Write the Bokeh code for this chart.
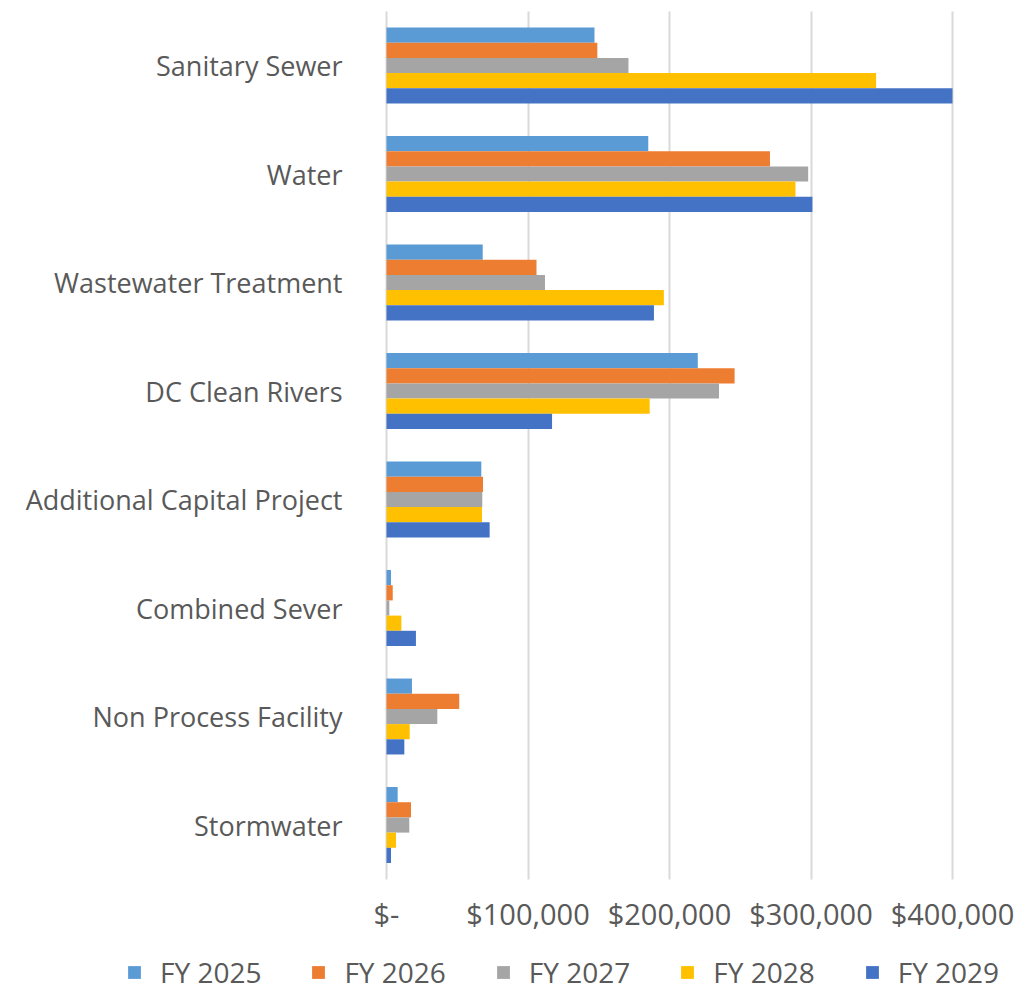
from bokeh.plotting import figure
from bokeh.models import ColumnDataSource, Range1d, FixedTicker, Legend, LegendItem
from bokeh.transform import dodge
from bokeh.embed import file_html
from bokeh.resources import INLINE

categories = ["Sanitary Sewer", "Water", "Wastewater Treatment", "DC Clean Rivers",
              "Additional Capital Project", "Combined Sever", "Non Process Facility", "Stormwater"]
series_names = ["FY 2025", "FY 2026", "FY 2027", "FY 2028", "FY 2029"]
fy2025 = [147000, 185000, 68000, 220000, 67000, 3200, 18000, 7900]
fy2026 = [149000, 271000, 106000, 246000, 68200, 4400, 51400, 17300]
fy2027 = [171000, 298000, 112000, 235000, 67700, 2000, 35900, 16100]
fy2028 = [346000, 289000, 196000, 186000, 67500, 10500, 16400, 6700]
fy2029 = [400000, 301000, 189000, 117000, 72900, 20800, 12600, 3200]
colors = ["#5B9BD5", "#ED7D31", "#A5A5A5", "#FFC000", "#4472C4"]
tick_values = [0, 100000, 200000, 300000, 400000]
tick_labels = ["$-", "$100,000", "$200,000", "$300,000", "$400,000"]

n = len(categories)
positions = list(range(n - 1, -1, -1))  # first category at the top
values = [fy2025, fy2026, fy2027, fy2028, fy2029]
keys = ["s0", "s1", "s2", "s3", "s4"]
data = {"cat": categories, "pos": positions}
for k, v in zip(keys, values):
    data[k] = v
source = ColumnDataSource(data)

FONT = "Open Sans"
TXT = "#595959"

# frame covers the whole canvas; axes are placed with fixed_location
W, H = 1017, 992
x0_px, px_per_unit = 386, 141.5 / 100000
y_top_cat_px, band_px = 65, 108.5
x_start = -x0_px / px_per_unit
x_end = (W - x0_px) / px_per_unit
y_end = (n - 1) + y_top_cat_px / band_px
y_start = (n - 1) - (H - y_top_cat_px) / band_px

p = figure(width=W, height=H, output_backend="svg", toolbar_location=None,
           x_range=Range1d(x_start, x_end), y_range=Range1d(y_start, y_end),
           min_border_left=0, min_border_right=0, min_border_top=0, min_border_bottom=0)
p.outline_line_color = None

offsets = [0.28, 0.14, 0.0, -0.14, -0.28]
renderers = []
for k, off, c in zip(keys, offsets, colors):
    r = p.hbar(y=dodge("pos", off), left=0, right=k, height=0.14,
               source=source, fill_color=c, line_color=None)
    renderers.append(r)

xa = p.xaxis[0]
xa.fixed_location = -0.5
xa.ticker = FixedTicker(ticks=tick_values)
xa.major_label_overrides = {v: l for v, l in zip(tick_values, tick_labels)}
xa.axis_line_color = None
xa.major_tick_line_color = None
xa.minor_tick_line_color = None
xa.major_label_text_font = FONT
xa.major_label_text_font_size = "29px"
xa.major_label_text_color = TXT
xa.major_label_standoff = 9

ya = p.yaxis[0]
ya.fixed_location = 0
ya.ticker = FixedTicker(ticks=positions)
ya.major_label_overrides = {pos: c for pos, c in zip(positions, categories)}
ya.axis_line_color = None
ya.major_tick_line_color = None
ya.minor_tick_line_color = None
ya.major_label_text_font = FONT
ya.major_label_text_font_size = "27px"
ya.major_label_text_color = TXT
ya.major_label_standoff = 38

p.ygrid.grid_line_color = None
p.xgrid.ticker = FixedTicker(ticks=tick_values)
p.xgrid.grid_line_color = "#D9D9D9"
p.xgrid.grid_line_width = 2
p.xgrid.cross_bounds = (-0.5, n - 0.5)

items = [LegendItem(label=s, renderers=[r]) for s, r in zip(series_names, renderers)]
legend = Legend(items=items, orientation="horizontal", location=(126, 1),
                label_text_font=FONT, label_text_font_size="28px", label_text_color=TXT,
                glyph_width=16, glyph_height=16, label_standoff=18, spacing=49,
                padding=0, margin=0, border_line_color=None, background_fill_alpha=0)
p.add_layout(legend, "center")

open("out.html", "w").write(file_html(p, INLINE))
